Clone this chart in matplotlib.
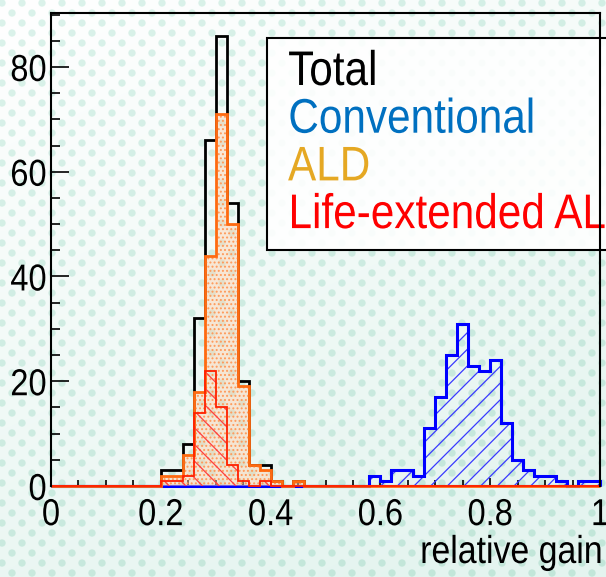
import numpy as np
import matplotlib
matplotlib.use('Agg')
import matplotlib.pyplot as plt
from matplotlib.patches import Rectangle
from matplotlib.patheffects import AbstractPathEffect
from matplotlib.transforms import Affine2D
from matplotlib.ticker import MultipleLocator, FuncFormatter

plt.rcParams['font.family'] = ['Liberation Sans', 'DejaVu Sans']
plt.rcParams['hatch.linewidth'] = 0.9

# bins are 0.02 wide on [0, 1]; counts below start at 0.20 (all bins before are empty)
bin_width = 0.02
first_bin = 0.20
total = [3, 3, 8, 32, 66, 86, 54, 20, 4, 4, 1, 0, 1, 0, 0, 0, 0, 0, 0,
         2, 1, 3, 3, 2, 11, 17, 25, 31, 23, 22, 24, 12, 5, 3, 2, 2, 1, 0, 1, 1]
conventional = [0, 0, 0, 0, 0, 0, 0, 0, 0, 0, 0, 0, 0, 0, 0, 0, 0, 0, 0,
                2, 1, 3, 3, 2, 11, 17, 25, 31, 23, 22, 24, 12, 5, 3, 2, 2, 1, 0, 1, 1]
ald = [2, 2, 6, 18, 44, 71, 50, 19, 4, 3, 1, 0, 1, 0, 0, 0, 0, 0, 0,
       0, 0, 0, 0, 0, 0, 0, 0, 0, 0, 0, 0, 0, 0, 0, 0, 0, 0, 0, 0, 0]
life_ext = [1, 1, 2, 14, 22, 15, 4, 1, 0, 1, 0, 0, 0, 0, 0, 0, 0, 0, 0,
            0, 0, 0, 0, 0, 0, 0, 0, 0, 0, 0, 0, 0, 0, 0, 0, 0, 0, 0, 0, 0]
legend_labels = ['Total', 'Conventional', 'ALD', 'Life-extended ALD']
legend_colors = ['#000000', '#0070c0', '#e5a823', '#ff0000']

edges = np.round(np.arange(0, 1 + bin_width / 2, bin_width), 2)
n_lead = int(round(first_bin / bin_width))


def full(counts):
    return np.concatenate([np.zeros(n_lead), counts])


class Narrow(AbstractPathEffect):
    """squeeze text horizontally (the slide uses a narrow Helvetica)"""

    def __init__(self, anchor='center', sx=0.87):
        super().__init__()
        self.anchor = anchor
        self.sx = sx

    def draw_path(self, renderer, gc, tpath, affine, rgbFace=None):
        ext = tpath.get_extents()
        x0 = {'left': ext.x0, 'center': 0.5 * (ext.x0 + ext.x1), 'right': ext.x1}[self.anchor]
        squeeze = Affine2D().translate(-x0, 0).scale(self.sx, 1).translate(x0, 0)
        renderer.draw_path(gc, tpath, squeeze + affine, rgbFace)


W, H = 606, 577
fig = plt.figure(figsize=(W / 100, H / 100), dpi=100)

# slide background: light mint with a dot pattern, whiter towards the top left
bg = fig.add_axes([0, 0, 1, 1], zorder=-10)
bg.set_xlim(0, W)
bg.set_ylim(H, 0)
bg.axis('off')
gy, gx = np.mgrid[0:1:60j, 0:1:60j]
t = np.clip(0.35 * gx + 0.75 * gy, 0, 1)[..., None]
white = np.array([1.0, 1.0, 1.0])
mint = np.array([0.895, 0.958, 0.938])
bg.imshow(white * (1 - t) + mint * t, extent=[0, W, H, 0], aspect='auto', interpolation='bilinear')
dx, dy = [], []
for r in range(H // 10 + 2):
    for c in range(W // 20 + 2):
        dx.append(2 + 20 * c + (10 if r % 2 else 0))
        dy.append(3 + 10 * r)
dx, dy = np.array(dx), np.array(dy)
td = np.clip(0.35 * dx / W + 0.75 * dy / H, 0, 1)[:, None]
dot_light = np.array([0.86, 0.95, 0.92])
dot_dark = np.array([0.76, 0.90, 0.85])
bg.scatter(dx, dy, s=28, c=dot_light * (1 - td) + dot_dark * td, edgecolors='none')

ax = fig.add_axes([51 / W, 91 / H, 549 / W, 473 / H])
ax.set_facecolor('none')

ax.stairs(full(total), edges, color='black', lw=2, zorder=2.0, clip_on=False)

ax.stairs(full(conventional), edges, fill=True, facecolor='none', edgecolor='#3a3aff',
          hatch='//', lw=0, zorder=2.05)
ax.stairs(full(conventional), edges, color='#0000ff', lw=2.2, zorder=2.1, clip_on=False)

ax.stairs(full(ald), edges, fill=True, facecolor=(1.0, 0.82, 0.68, 0.45), edgecolor='#ff9a5a',
          hatch='....', lw=0, zorder=2.15)
ax.stairs(full(ald), edges, color='#ff6a10', lw=2, zorder=2.2, clip_on=False)

ax.stairs(full(life_ext), edges, fill=True, facecolor='none', edgecolor='#ff4040',
          hatch='\\\\', lw=0, zorder=2.25)
ax.stairs(full(life_ext), edges, color='#ff2000', lw=1.3, zorder=2.3, clip_on=False)

ax.set_xlim(0, 1)
ax.set_ylim(0, 86 * 1.05)
ax.xaxis.set_major_locator(MultipleLocator(0.2))
ax.xaxis.set_minor_locator(MultipleLocator(0.05))
ax.yaxis.set_major_locator(MultipleLocator(20))
ax.yaxis.set_minor_locator(MultipleLocator(5))
fmt = FuncFormatter(lambda v, pos: '%g' % round(v, 2))
ax.xaxis.set_major_formatter(fmt)
ax.yaxis.set_major_formatter(fmt)

ax.tick_params(which='both', direction='in', top=False, right=False, width=1.2)
ax.tick_params(axis='y', which='major', length=13, labelsize=27, pad=3)
ax.tick_params(axis='y', which='minor', length=6.5)
ax.tick_params(axis='x', which='major', length=6, labelsize=27, pad=8)
ax.tick_params(axis='x', which='minor', length=4)
for s in ax.spines.values():
    s.set_linewidth(1.5)
# the empty-bin outlines sit on top of the x axis line, as in ROOT
ax.spines['bottom'].set_zorder(1.9)

fig.text(603 / W, 1 - 553 / H, 'relative gain', ha='right', va='center', fontsize=28,
         path_effects=[Narrow('right')])

# legend box runs off the right edge of the slide
ax.add_patch(Rectangle((267 / W, 1 - 250 / H), 400 / W, 212 / H, transform=fig.transFigure,
                       facecolor=(1, 1, 1, 0.88), edgecolor='black', lw=1.5,
                       zorder=2.4, clip_on=False))
for i, (lab, col) in enumerate(zip(legend_labels, legend_colors)):
    ax.text(288 / W, 1 - (85 + 47.7 * i) / H, lab, color=col, fontsize=35,
            va='baseline', ha='left', transform=fig.transFigure, zorder=2.45, clip_on=False,
            path_effects=[Narrow('left')])

fig.canvas.draw()
for lbl in ax.get_xticklabels():
    lbl.set_path_effects([Narrow('center')])
for lbl in ax.get_yticklabels():
    lbl.set_path_effects([Narrow('right')])

fig.savefig('out.png', dpi=100)
